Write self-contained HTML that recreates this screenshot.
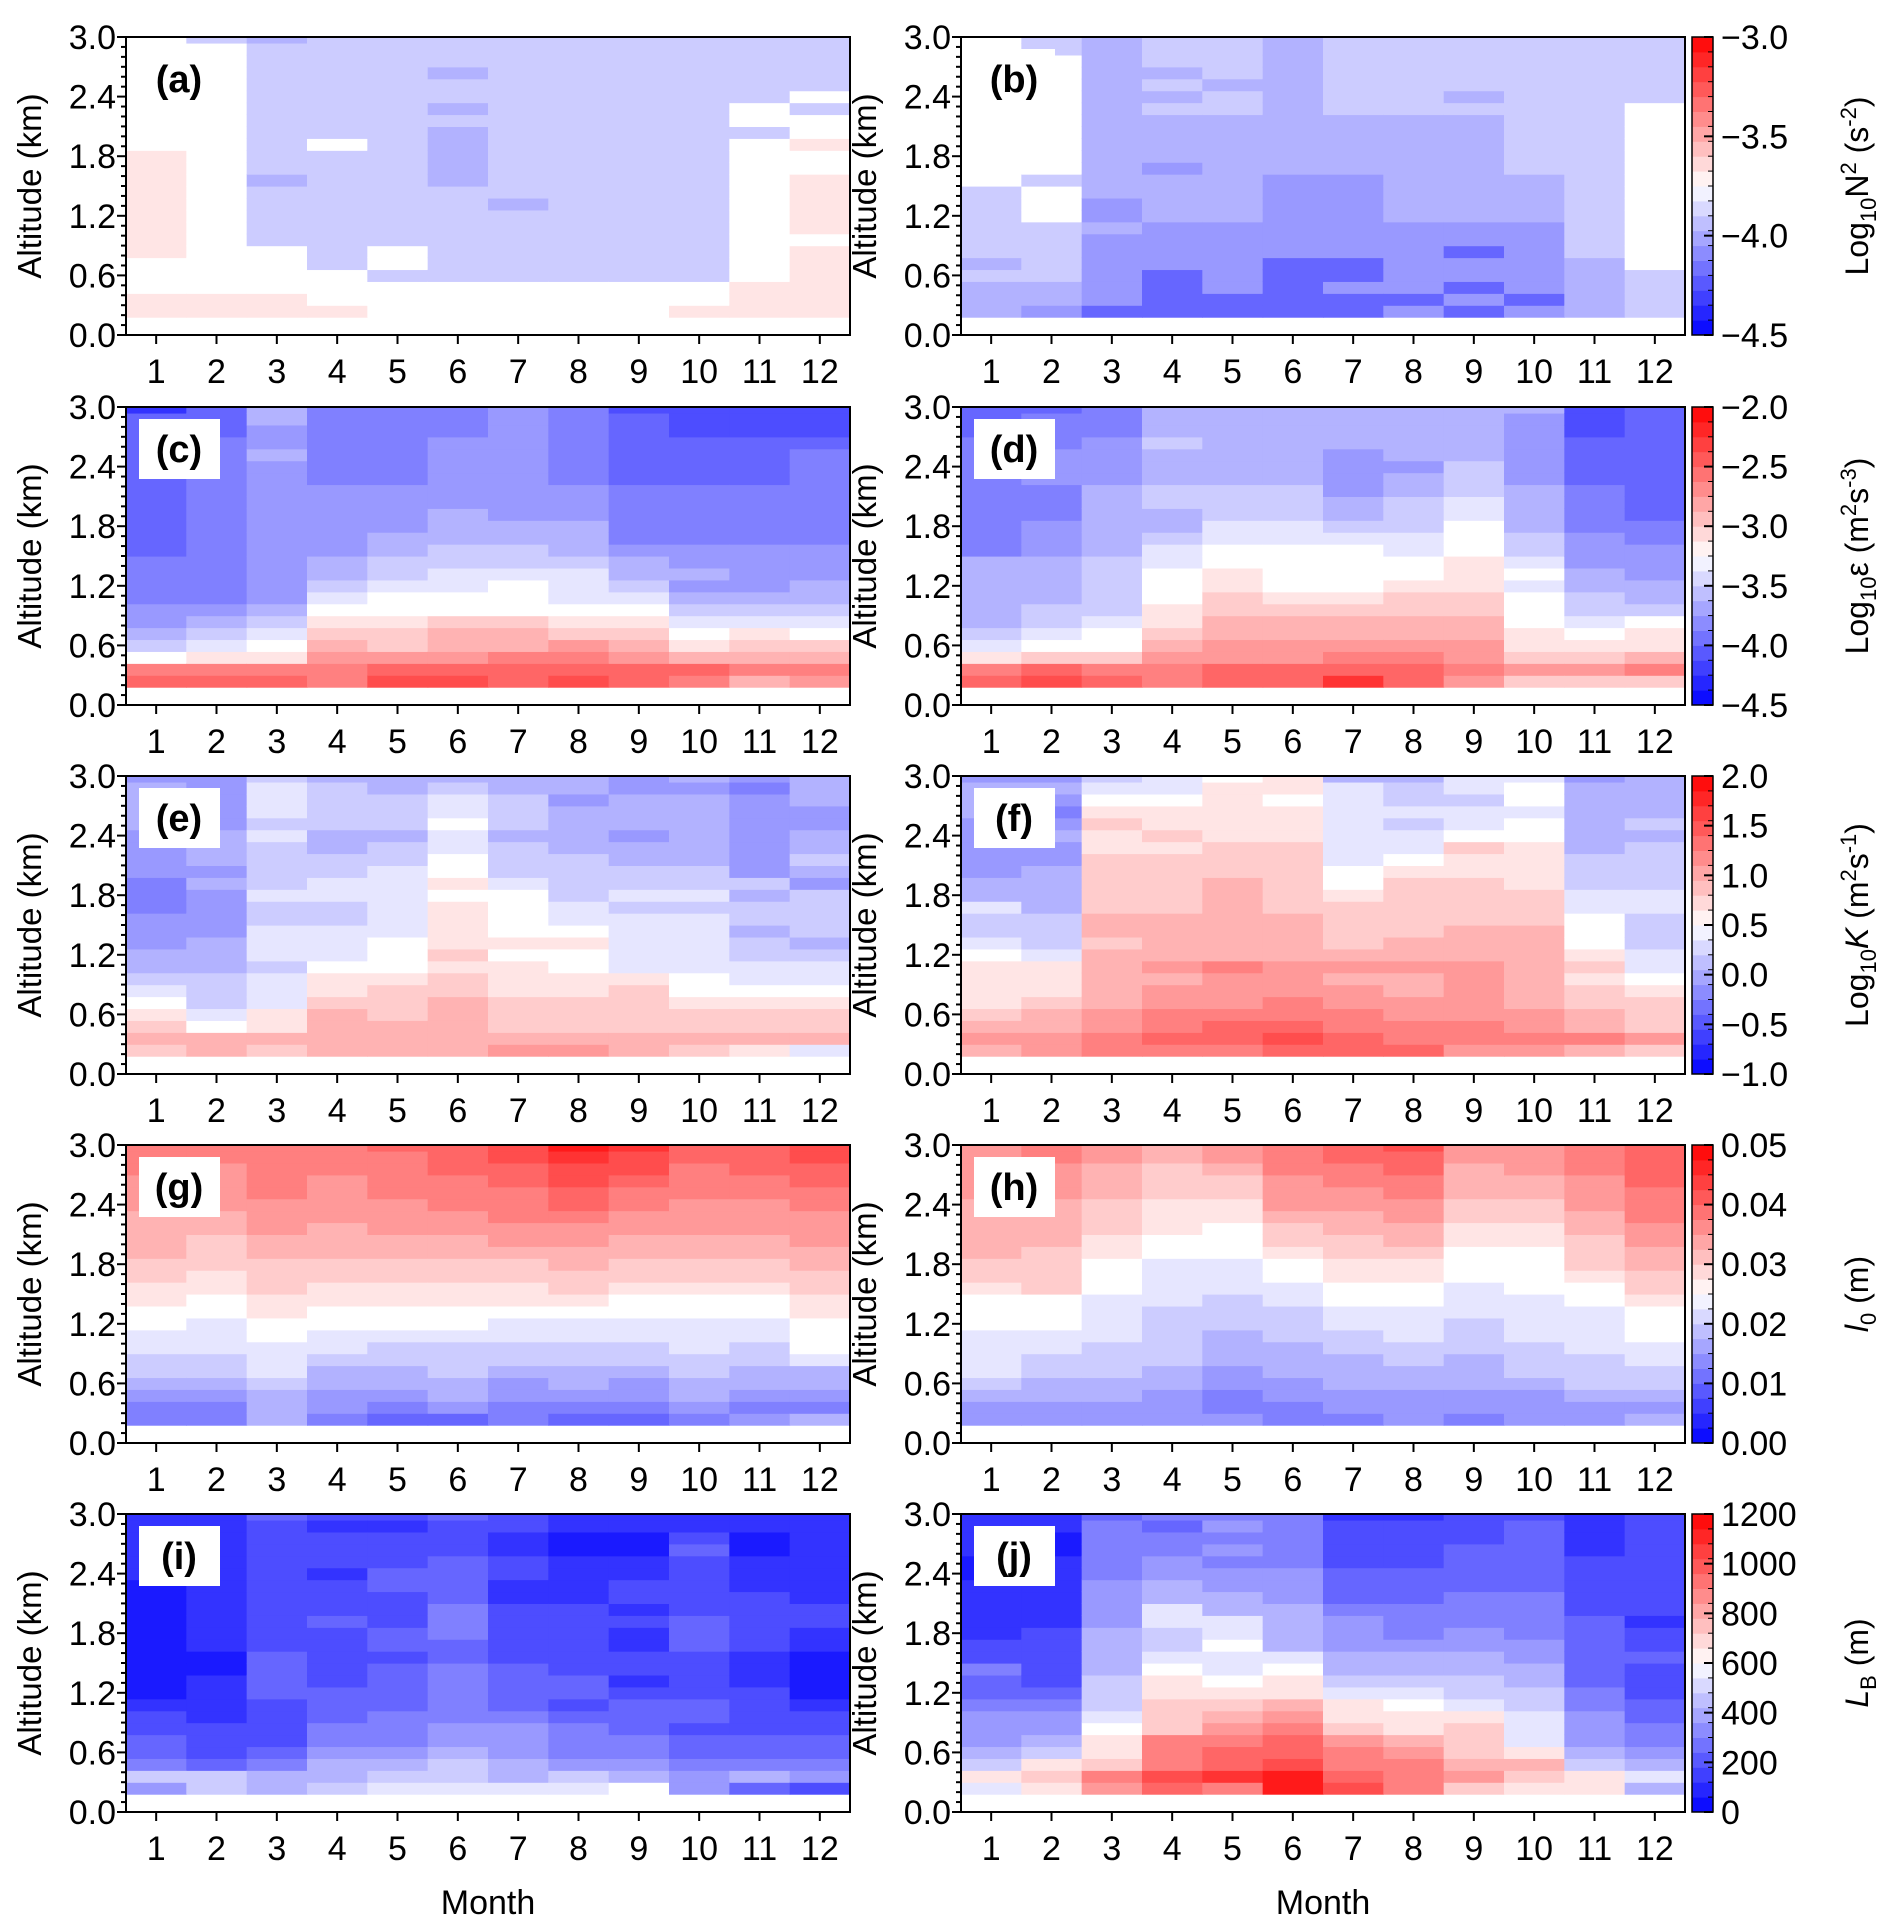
<!DOCTYPE html>
<html><head><meta charset="utf-8">
<style>
html,body{margin:0;padding:0;background:#fff;}
svg{display:block;font-family:"Liberation Sans Narrow","Liberation Sans",sans-serif;}
</style></head>
<body>
<svg id="fig" xmlns="http://www.w3.org/2000/svg" width="1892" height="1932" viewBox="0 0 1892 1932"></svg>
<script>
// ---- data: each panel = 12 month columns, each a string of 24 altitude bins (bottom->top, 0.18 km + 0.12 km steps)
// level code: a (min) ... k (mid, white) ... u (max)
const months = [1,2,3,4,5,6,7,8,9,10,11,12];
const binStart = 0.18, binStep = 0.12;
const panelA = ["llkkklllllllllkkkkkkkkkk","llkkkkkkkkkkkkkkkkkkkkki","llkkkkiiiiihiiiiiiiiiiih","lkkkiiiiiiiiiikiiiiiiiii","kkkikkiiiiiiiiiiiiiiiiii","kkkiiiiiiiihhhhhihiihiii","kkkiiiiiihiiiiiiiiiiiiii","kkkiiiiiiiiiiiiiiiiiiiii","kkkiiiiiiiiiiiiiiiiiiiii","lkkiiiiiiiiiiiiiiiiiiiii","lllkkkkkkkkkkkkikkiiiiii","llllllklllllkklkkikiiiii"];
const panelB = ["hhhihiiiiiikkkkkkkkkkkkk","ghhiiiiikkkikkkkkkkkkkii","egggggghgghhhhhhhhhhhhhh","eeeegggghhhhghhhhihihiii","eegggggghhhhhhhhhiihiiii","eeeeeggggggghhhhhhhhhhhh","eegeeggggggghhhhhiiiiiii","gegggggghhhhhhhhhiiiiiii","egegge gghhhhhhhhhihiiiii".replace(" ",""),"gegggggghhhhiiiiiiiiiiii","hhhhhiiiiiiiiiiiiiiiiiii","iiiikkkkkkkkkkkkkkiiiiii"];
const panelC = ["qpkihggffffeeeeeeeeeeeec","qpljihgffffffffffffffeee","qplkjihgggggggggggghgghh","pponmlkjihhggggggfffffff","rqommlkkjiihhggggfffffff","rqonnmkkjjiihhhggggggfff","qqpnnmkkkjiihhgggggggggg","rqpomlkjjjihhhgggfffffff","qqonmlkjihhgfffffeeeeeed","pqnlkjihghggfffffeeeeddd","npnmljihggggfffffeeeeddd","opnmkjihhgggffffffffeddd"];
const panelD = ["qpljihhhhhhffffffffffeee","rqmkjiihhhhgggfffgggfffe","qpmkkjiiiiihhhhhhggggfff","pponmllkkkjjihhiihhhihhh","qqoonnmmllkkjjiiihhhhhhh","qqoonnmlkkkkjjiiihhhhhhh","sqponnmlkkkkjihhgggghhhh","qqponnmmlkkjjiiihhghhhhh","opoonnmmlllkkkjjiiihhhhh","momllkkkjkjiihhhhggggggh","momlkjiihhgggffffeeeeddd","mpnllkihhgggffeeeeeeeeee"];
const panelE = ["mnmlkjihhgggfffgggghhhhg","nnkjiiihhhgggghghhhggggg","mnlljjjijjjiijiiiijijjji","nnnnmllkjjjiijjiihhiiiih","nnnmmmlkkkjjjjjjiihiiihh","nnnnnmmlmllllklkkjjkjjih","onmmmlllklkkkkjiiihiiihh","onmmmllkklkjjiiiihhhhghh","nnmmmmljjjjjijiihhghhhgg","mnmmlkkjjjjjijiihhhhhhgh","lnmmlkjjiihiihigggggggfg","jnmmlkjjihiiiighihhgghhh"];
const panelF = ["nonmllllkjiijhhggggghhhg","oonnmllljiiihhhhgghgfghg","ppoonnnnnmnnmmmmmllmlkji","pqppoononnnnmmmmmlmllkjj","pqqpooopnnnnnnnmmmlllllk","qrqppooonnnnmmmmmmlllkll","qqppoononmmmmlkkjjjjjjjh","qppoonnonnmmmmmlkjjijiih","oppooooonnnmmmmllmkjjijj","opoonnnnnnnmmmllllkkjkkj","npnnmmlmlkkkjjiiihhhhhhg","mommmlkjjiiijjiiiihihhhh"];
const panelG = ["ffghiijjkkllmmnnnnoooppp","ffghiijjjkkllmmmnnoooopp","hhhijjjkkllmmmnnoooppppp","fgghhijjkkllmmnnnooooppp","efghhiijkkllmmnnoooppppq","eghhiiijkkllmmnnoopppqqq","ffgghiijjkllmmnoopppqqrr","efghhiijjklmmnnoopqqrrst","efgghiijjkklmmnnooppqrrs","fghhiijjjkklmmnnooopppqq","gfghhiijjkklmmnnoooppqqq","hfghhjkkkllmmnnoooppqqrr"];
const panelH = ["gghijjjjkkklmmnnnnnooooo","gghhiijjkkkmmmmnnnnooopp","gghhiiijjjjkkkllmmmnnnoo","ggghhiiiiijjjjkklllmmmnn","gffgghhhiiijjjkkkllmmnoo","ffgghhhiiijjkklmmnoooppp","fgghhhiijjkkllmmnnooppqq","ggghhiijjjkkllmnnooppqqr","fgghhhiiijjjkkkllmmnnnoo","ggghiiijjjjkkkkllmmnnooo","gghiiijjjjkklmmmnnoooppp","hghiijjkkklmmnnoopppqqqq"];
const panelI = ["gifeeddcbbbbbbbbbbcccccc","iiedddccccbbcccccccccccc","hhfeddddeeeeddddddddddde","ihhgffeeedddddedddcdddcd","jihgfffeeeedeedddeedddcd","jiihggfffffeefffeeeeddde","jhhgggfeeeedddddccddccdd","jigfffedeeddddddccccbbcc","khgffeeedcddccdcddccbbcc","ggfeedeeddddeeedddddedcc","ehfeeddddcccdddddcccbbcc","dgfeeddcbbbbccddcccccccc"];
const panelJ = ["jlihgggfeefddcccccbbcccc","lmlihggfedddddccccccbbcc","opmllkjiiihhhhggggfffffe","qrpppmmmllkjiijjhhggffef","psqqponmlkjjkjjhhggfgfgf","ttrqqponllkjhhhhgggfffff","rqppomlljihhgggfeeeddddc","ppponllkjihhgfffeeeddddc","monmmmljiihhggfffeeeeddd","lmnljjjiihhggffffeeeeeed","llihgggffeeeeeedddddcccc","hjhgffeedddeddcddddddddd"];
const rangeMin = [-4.5,-4.5,-1.0,0.0,0];
const rangeMax = [-3.0,-2.0,2.0,0.05,1200];
const cbTicks = [[-4.5,-4.0,-3.5,-3.0],[-4.5,-4.0,-3.5,-3.0,-2.5,-2.0],[-1.0,-0.5,0.0,0.5,1.0,1.5,2.0],[0,0.01,0.02,0.03,0.04,0.05],[0,200,400,600,800,1000,1200]];
const cbTickLabels = [["−4.5","−4.0","−3.5","−3.0"],["−4.5","−4.0","−3.5","−3.0","−2.5","−2.0"],["−1.0","−0.5","0.0","0.5","1.0","1.5","2.0"],["0.00","0.01","0.02","0.03","0.04","0.05"],["0","200","400","600","800","1000","1200"]];
const yTicks = [0.0,0.6,1.2,1.8,2.4,3.0];
const yTickLabels = ["0.0","0.6","1.2","1.8","2.4","3.0"];

const NS="http://www.w3.org/2000/svg";
const svg=document.getElementById('fig');
function mk(tag,attrs,parent){const e=document.createElementNS(NS,tag);for(const k in attrs)e.setAttribute(k,attrs[k]);(parent||svg).appendChild(e);return e;}
function bwr(f){f=Math.max(0,Math.min(1,f));let r,g,b;if(f<0.5){r=g=Math.round(510*f);b=255;}else{r=255;g=b=Math.round(510*(1-f));}return `rgb(${r},${g},${b})`;}
const levels="abcdefghijklmnopqrstu";
function codeToValue(ch,row){const i=levels.indexOf(ch);return rangeMin[row]+i/20*(rangeMax[row]-rangeMin[row]);}

const panels=[panelA,panelB,panelC,panelD,panelE,panelF,panelG,panelH,panelI,panelJ];
const letters=["a","b","c","d","e","f","g","h","i","j"];
const colX=[126,961], PW=724, PH=298;
const rowY=[37,407,776,1145,1514];

function xScale(px,m){return px+(m-0.5)/12*PW;}
function yScale(py,alt){return py+PH-alt/3*PH;}

panels.forEach((data,pi)=>{
  const row=Math.floor(pi/2), col=pi%2;
  const px=colX[col], py=rowY[row];
  const g=mk('g',{});
  
  
  data.forEach((str,mi)=>{
    for(let k=0;k<str.length;k++){
      const v=codeToValue(str[k],row);
      const f=(v-rangeMin[row])/(rangeMax[row]-rangeMin[row]);
      const a0=binStart+k*binStep, a1=Math.min(3.0,a0+binStep);
      const x0=xScale(px,months[mi]-0.5), x1=xScale(px,months[mi]+0.5);
      const y0=yScale(py,a1), y1=yScale(py,a0);
      const r=mk('rect',{x:x0.toFixed(2),y:y0.toFixed(2),width:(x1-x0+0.6).toFixed(2),height:(y1-y0+0.6).toFixed(2),fill:bwr(f)},g);
      
      
    }
  });
  // frame
  const fr=mk('rect',{x:px,y:py,width:PW,height:PH,fill:'none',stroke:'#000','stroke-width':2},g);
  
  
  // y ticks
  for(let t=0;t<=30;t++){const a=t/10;const y=yScale(py,a);const major=(t%6===0);
    mk('line',{x1:px,x2:px-(major?9:5),y1:y,y2:y,stroke:'#000','stroke-width':2},g);}
  yTicks.forEach((a,i)=>{const tx=mk('text',{x:px-10,y:yScale(py,a)+12,'text-anchor':'end','font-size':34},g);tx.textContent=yTickLabels[i];
    
    });
  months.forEach(m=>{const x=xScale(px,m);mk('line',{x1:x,x2:x,y1:py+PH,y2:py+PH+9,stroke:'#000','stroke-width':2},g);
    const tx=mk('text',{x:x,y:py+PH+48,'text-anchor':'middle','font-size':34},g);tx.textContent=m;
    
    });
  // y axis title
  const yt=mk('text',{transform:`translate(${px-85},${py+PH/2}) rotate(-90)`,'text-anchor':'middle','font-size':33},g);
  yt.textContent='Altitude (km)';
  
  
  // label box
  const lb=mk('rect',{x:px+13,y:py+12,width:81,height:60,fill:'#fff'},g);
  
  
  const lt=mk('text',{x:px+53,y:py+55,'text-anchor':'middle','font-size':38,'font-weight':'bold','font-family':'Liberation Sans, sans-serif'},g);
  lt.textContent='('+letters[pi]+')';
  
  
});

// colorbars
const cbX=1692, cbW=21;
const cbTitles=[
 ['Log','10','N','2',' (s','-2',')'],
 ['Log','10','ε (m','2','s','-3',')'],
 ['Log','10','K',' (m','2','s','-1',')'],
 null,null];
rowY.forEach((py,row)=>{
  const g=mk('g',{});
  
  
  const N=20;
  for(let i=0;i<N;i++){const f=(i+0.5)/N;const y0=py+PH-(i+1)/N*PH;
    mk('rect',{x:cbX,y:y0.toFixed(2),width:cbW,height:(PH/N+0.5).toFixed(2),fill:bwr(f)},g);}
  mk('rect',{x:cbX,y:py,width:cbW,height:PH,fill:'none',stroke:'#000','stroke-width':1.5},g);
  for(let i=0;i<=N;i++){const y=py+PH-i/N*PH;mk('line',{x1:cbX+cbW,x2:cbX+cbW-5,y1:y,y2:y,stroke:'#000','stroke-width':1},g);}
  cbTicks[row].forEach((v,i)=>{const y=py+PH-(v-rangeMin[row])/(rangeMax[row]-rangeMin[row])*PH;
    mk('line',{x1:cbX+cbW,x2:cbX+cbW-9,y1:y,y2:y,stroke:'#000','stroke-width':2},g);
    const t=mk('text',{x:cbX+cbW+8,y:y+12,'font-size':34},g);t.textContent=cbTickLabels[row][i];
    
    });
  const t=mk('text',{transform:`translate(${1868},${py+PH/2}) rotate(-90)`,'text-anchor':'middle','font-size':32},g);
  
  
  const sp=(txt,opt)=>{const s=mk('tspan',opt||{},t);s.textContent=txt;return s;};
  if(row===0){sp('Log');sp('10',{'font-size':22,dy:8});sp('N',{dy:-8});sp('2',{'font-size':22,dy:-12});sp(' (s',{dy:12});sp('-2',{'font-size':22,dy:-12});sp(')',{dy:12});}
  else if(row===1){sp('Log');sp('10',{'font-size':22,dy:8});sp('ε (m',{dy:-8});sp('2',{'font-size':22,dy:-12});sp('s',{dy:12});sp('-3',{'font-size':22,dy:-12});sp(')',{dy:12});}
  else if(row===2){sp('Log');sp('10',{'font-size':22,dy:8});sp('K',{dy:-8,'font-style':'italic'});sp(' (m');sp('2',{'font-size':22,dy:-12});sp('s',{dy:12});sp('-1',{'font-size':22,dy:-12});sp(')',{dy:12});}
  else if(row===3){sp('l',{'font-style':'italic'});sp('0',{'font-size':22,dy:8});sp(' (m)',{dy:-8});}
  else {sp('L',{'font-style':'italic'});sp('B',{'font-size':22,dy:8});sp(' (m)',{dy:-8});}
});

// x-axis titles
[0,1].forEach(c=>{const t=mk('text',{x:colX[c]+PW/2,y:1914,'text-anchor':'middle','font-size':34});t.textContent='Month';
  
  });
</script>
</body></html>
